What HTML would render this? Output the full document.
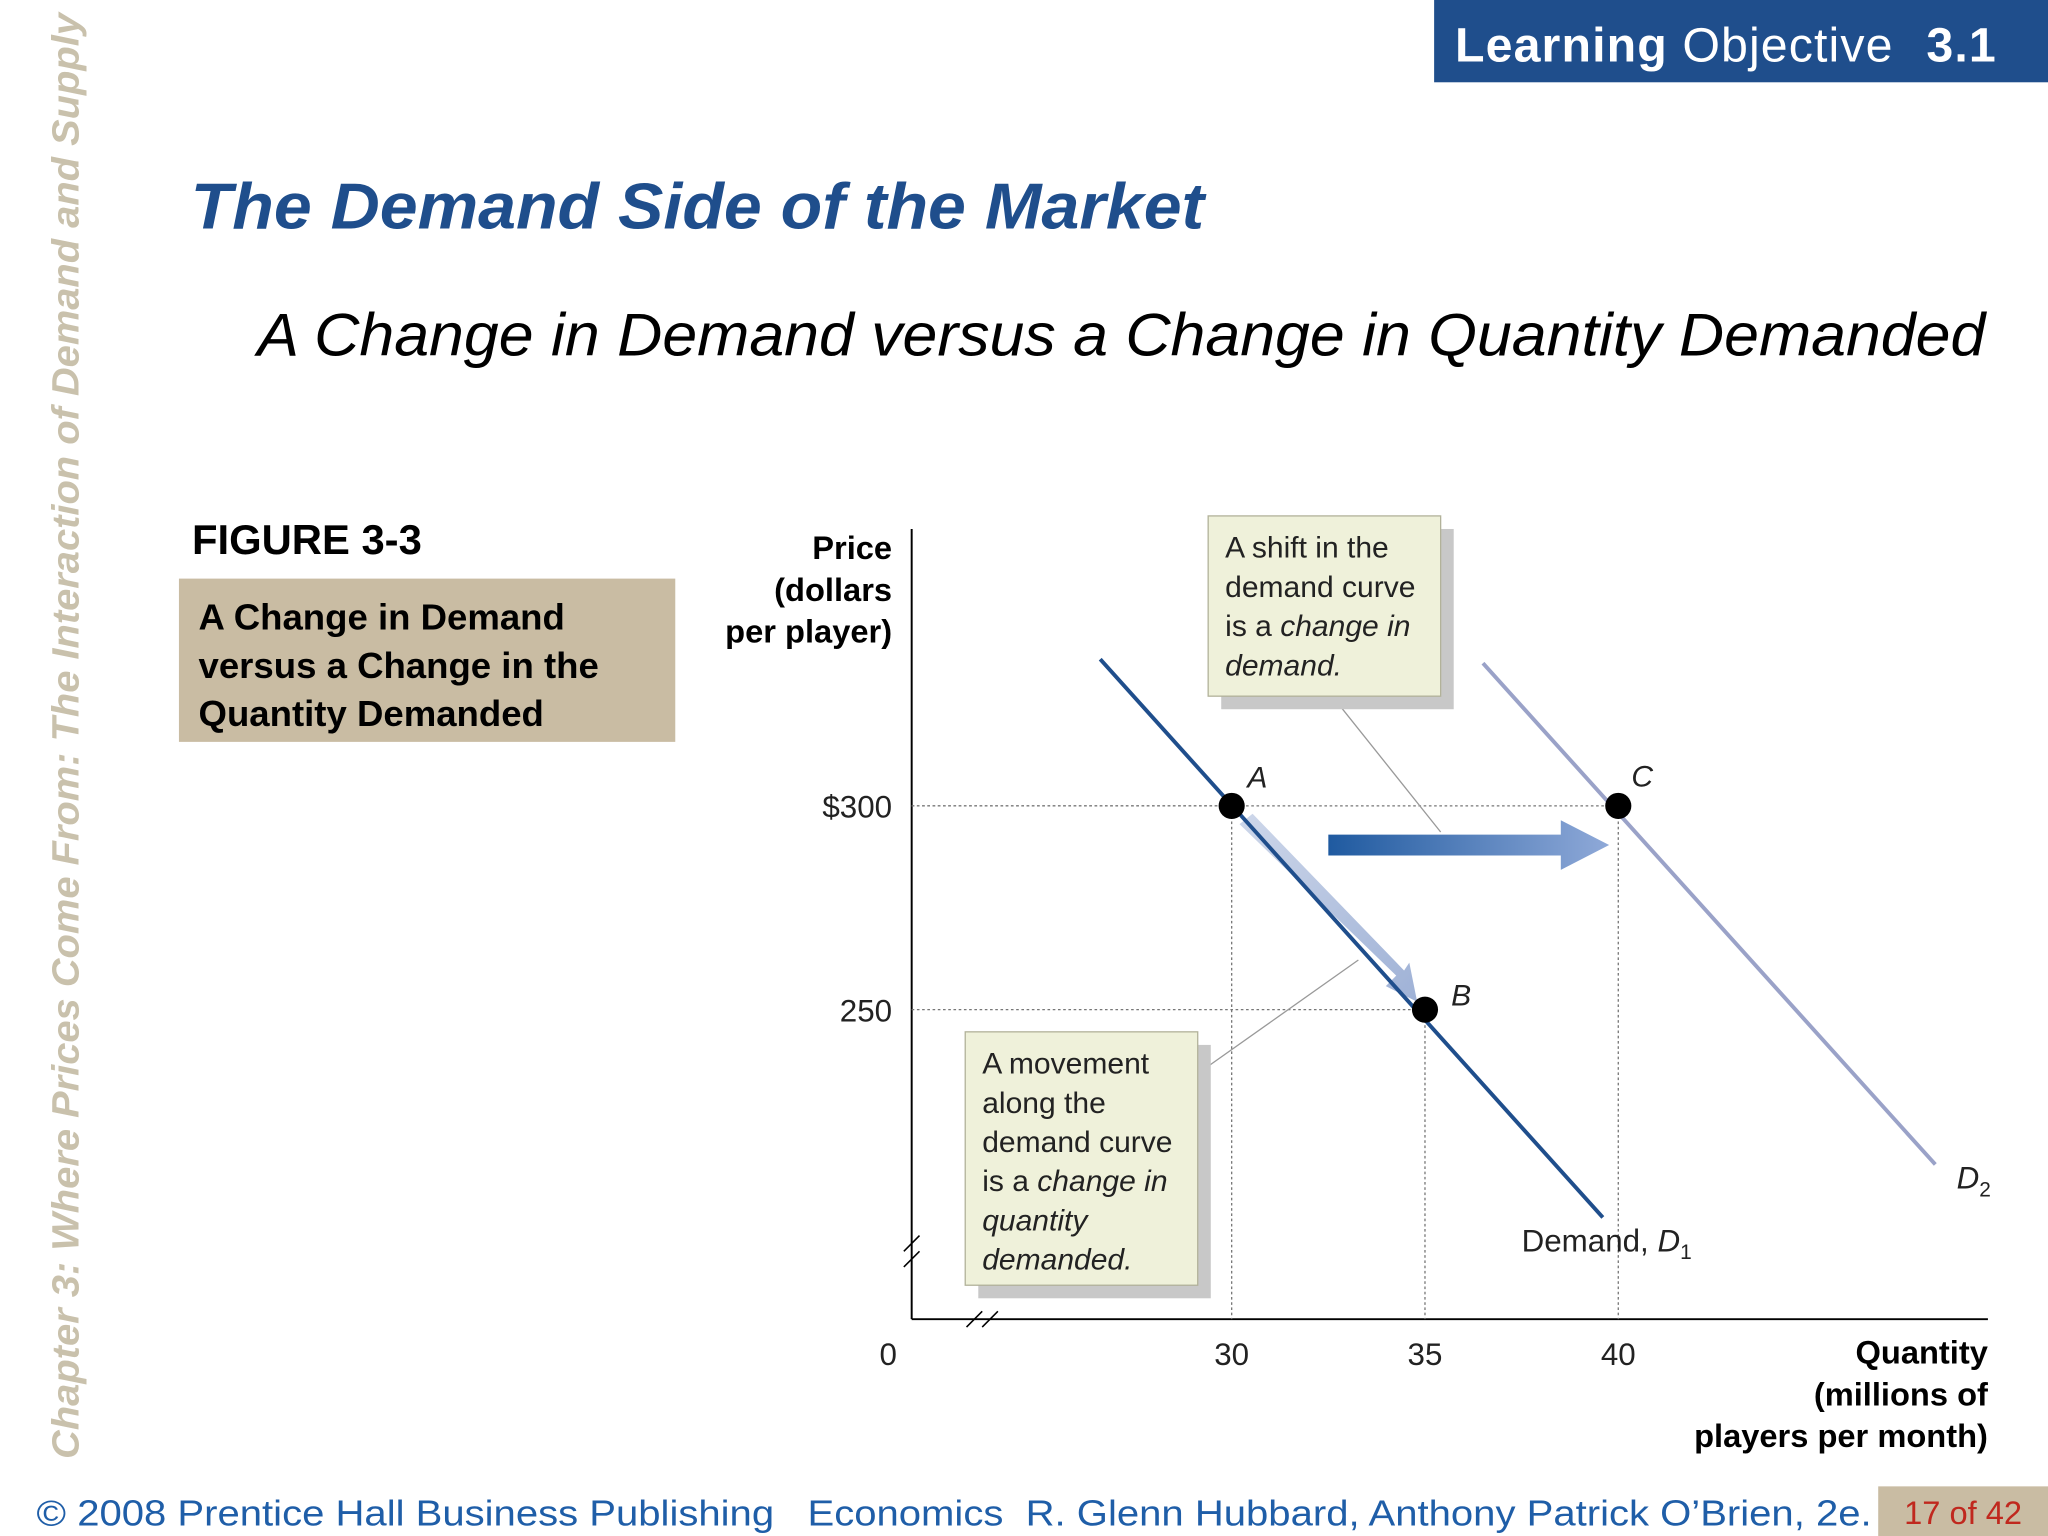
<!DOCTYPE html>
<html><head><meta charset="utf-8"><style>
html,body{margin:0;padding:0;background:#fff;}
svg{display:block;font-family:"Liberation Sans",sans-serif;}
</style></head><body>
<svg id="chart" width="2048" height="1536" viewBox="0 0 1568 1176" xmlns="http://www.w3.org/2000/svg">
<defs>
<linearGradient id="shiftGrad" x1="0" x2="1" y1="0" y2="0"><stop offset="0" stop-color="#1f5aa0"/><stop offset="1" stop-color="#8fa9d8"/></linearGradient>
<linearGradient id="moveGrad" x1="0" x2="1" y1="0" y2="1"><stop offset="0" stop-color="#c5d0e6"/><stop offset="1" stop-color="#8ea4cf"/></linearGradient>
</defs>
<rect x="0" y="0" width="1568" height="1176" fill="#fff"/>
<rect x="1098" y="0" width="470" height="63" fill="#1f4e8c"/>
<text x="1114" y="47" font-size="37" fill="#fff" textLength="414" lengthAdjust="spacing"><tspan font-weight="bold">Learning</tspan> Objective <tspan font-weight="bold" dx="14">3.1</tspan></text>
<text transform="translate(60,1117) rotate(-90)" font-size="29" font-weight="bold" font-style="italic" fill="#c9c1ac" textLength="1107" lengthAdjust="spacingAndGlyphs">Chapter 3: Where Prices Come From: The Interaction of Demand and Supply</text>
<text x="146" y="175" font-size="50" font-weight="bold" font-style="italic" fill="#1f4e8c" textLength="776" lengthAdjust="spacingAndGlyphs">The Demand Side of the Market</text>
<text x="197" y="272" font-size="46" font-style="italic" fill="#000" textLength="1323" lengthAdjust="spacingAndGlyphs">A Change in Demand versus a Change in Quantity Demanded</text>
<text x="147" y="424" font-size="32" font-weight="bold">FIGURE 3-3</text>
<rect x="137" y="443" width="380" height="125" fill="#c9bca3"/>
<g font-size="28" font-weight="bold">
<text x="152" y="482">A Change in Demand</text><text x="152" y="519">versus a Change in the</text><text x="152" y="556">Quantity Demanded</text></g>
<g id="plot"></g>
<text x="28" y="1168" font-size="28" fill="#1f5ea8" style="white-space:pre" textLength="1405" lengthAdjust="spacingAndGlyphs">© 2008 Prentice Hall Business Publishing   Economics  R. Glenn Hubbard, Anthony Patrick O’Brien, 2e.</text>
<rect x="1438" y="1138" width="130" height="38" fill="#c9bca3"/>
<text x="1503" y="1167" font-size="25" fill="#c0281e" text-anchor="middle">17 of 42</text>
</svg>
<script>
const xTicks = [30, 35, 40];
const yTicks = [250, 300];
const yTickLabels = ["250", "$300"];
const d1Qty = [26.6, 39.6];
const d1Price = [336, 199];
const d2Qty = [36.5, 48.2];
const d2Price = [335, 212];
const pointNames = ["A", "B", "C"];
const pointQty = [30, 35, 40];
const pointPrice = [300, 250, 300];

const NS = "http://www.w3.org/2000/svg";
const X = q => 943 + (q - 30) * 29.6;
const Y = p => 617 - (p - 300) * 3.12;
const g = document.getElementById('plot');
function mk(tag, attrs, parent) {
  const e = document.createElementNS(NS, tag);
  for (const k in attrs) e.setAttribute(k, attrs[k]);
  (parent || g).appendChild(e);
  return e;
}
let e = mk('line', {x1:698,y1:405,x2:698,y2:1010,stroke:'#000','stroke-width':1.5});


e = mk('line', {x1:698,y1:1010,x2:1522,y2:1010,stroke:'#000','stroke-width':1.5});


e = mk('path', {d:'M692 958 L704 946 M692 970 L704 958 M740 1016 L752 1004 M752 1016 L764 1004',stroke:'#000','stroke-width':1.2,fill:'none'});


pointQty.forEach((q, i) => {
  const gl = mk('path', {d:`M698 ${Y(pointPrice[i])} H${X(q)} M${X(q)} ${Y(pointPrice[i])} V1010`,stroke:'#777','stroke-width':1,'stroke-dasharray':'2,2',fill:'none'});
  
  
});
xTicks.forEach(t => {
  const tx = mk('text', {x:X(t),y:1045,'font-size':24,'text-anchor':'middle',fill:'#222'});
  tx.textContent = t;
  
  
});
e = mk('text', {x:680,y:1045,'font-size':24,'text-anchor':'middle',fill:'#222'}); e.textContent = '0';


yTicks.forEach((t, i) => {
  const tx = mk('text', {x:683,y:Y(t)+9,'font-size':24,'text-anchor':'end',fill:'#222'});
  tx.textContent = yTickLabels[i];
  
  
});
['Price','(dollars','per player)'].forEach((s, i) => {
  const tx = mk('text', {x:683,y:428+i*32,'font-size':25,'font-weight':'bold','text-anchor':'end'});
  tx.textContent = s;
  
  
});
['Quantity','(millions of','players per month)'].forEach((s, i) => {
  const tx = mk('text', {x:1522,y:1044+i*32,'font-size':25,'font-weight':'bold','text-anchor':'end'});
  tx.textContent = s;
  
  
});
const ax = X(pointQty[0]), ay = Y(pointPrice[0]), bx = X(pointQty[1]), by = Y(pointPrice[1]);
e = mk('path', {d:`M${ax+6} ${ay+14} L${bx-22} ${by-26} L${bx-30} ${by-18} L${bx-6} ${by-6} L${bx-12} ${by-36} L${bx-16} ${by-30} L${ax+16} ${ay+6} Z`,fill:'url(#moveGrad)',opacity:0.85});


e = mk('line', {x1:X(d2Qty[0]),y1:Y(d2Price[0]),x2:X(d2Qty[1]),y2:Y(d2Price[1]),stroke:'#9aa2c8','stroke-width':3});


e = mk('line', {x1:X(d1Qty[0]),y1:Y(d1Price[0]),x2:X(d1Qty[1]),y2:Y(d1Price[1]),stroke:'#1f4e8c','stroke-width':3});


const cy = Y(300) + 30;
e = mk('path', {d:`M1017 ${cy-8} H1195 V${cy-19} L1232 ${cy} L1195 ${cy+19} V${cy+8} H1017 Z`,fill:'url(#shiftGrad)'});


function callout(x, y, w, h, lines, name, lx1, ly1, lx2, ly2) {
  const c = mk('line', {x1:lx1,y1:ly1,x2:lx2,y2:ly2,stroke:'#999','stroke-width':1});
  
  
  const s = mk('rect', {x:x+10,y:y+10,width:w,height:h,fill:'#c8c8c8'});
  
  
  const r = mk('rect', {x:x,y:y,width:w,height:h,fill:'#eff1da',stroke:'#b2b29a','stroke-width':1});
  
  
  lines.forEach((ln, i) => {
    const t = mk('text', {x:x+13,y:y+32+i*30,'font-size':23,fill:'#222'});
    ln.forEach(seg => { const sp = mk('tspan', {'font-style':seg[1]?'italic':'normal'}, t); sp.textContent = seg[0]; });
    
    
  });
}
callout(925, 395, 178, 138, [[['A shift in the',0]],[['demand curve',0]],[['is a ',0],['change in',1]],[['demand.',1]]], 'shift-callout', 1020, 533, 1103, 637);
callout(739, 790, 178, 194, [[['A movement',0]],[['along the',0]],[['demand curve',0]],[['is a ',0],['change in',1]],[['quantity',1]],[['demanded.',1]]], 'movement-callout', 917, 822, 1040, 735);
const labOff = [[12,-14],[20,-3],[10,-15]];
pointQty.forEach((q, i) => {
  const c = mk('circle', {cx:X(q),cy:Y(pointPrice[i]),r:10,fill:'#000'});
  
  
  const t = mk('text', {x:X(q)+labOff[i][0],y:Y(pointPrice[i])+labOff[i][1],'font-size':23,'font-style':'italic',fill:'#222'});
  t.textContent = pointNames[i];
  
  
});
e = mk('text', {x:1165,y:958,'font-size':24,fill:'#222'});
e.innerHTML = 'Demand, <tspan font-style="italic">D</tspan><tspan font-size="16" dy="6">1</tspan>';


e = mk('text', {x:1498,y:910,'font-size':24,fill:'#222'});
e.innerHTML = '<tspan font-style="italic">D</tspan><tspan font-size="16" dy="6">2</tspan>';


</script>
</body></html>
